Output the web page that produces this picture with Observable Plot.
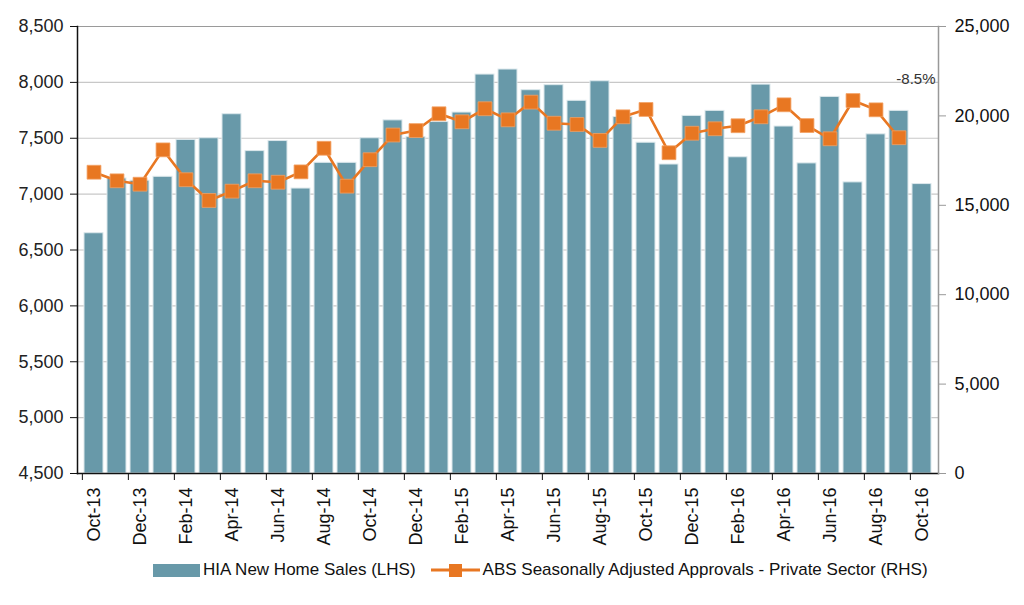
<!DOCTYPE html>
<html>
<head>
<meta charset="utf-8">
<script src="https://cdn.jsdelivr.net/npm/d3@7"></script>
<script src="https://cdn.jsdelivr.net/npm/@observablehq/plot@0.6"></script>
<style>
  html, body { margin: 0; padding: 0; background: #fff; }
  #wrap { position: relative; width: 1024px; height: 605px; font-family: "Liberation Sans", Arial, sans-serif; }
  #legend { position: absolute; left: 153px; top: 560px; display: flex; align-items: center; font-size: 17px; color: #111; white-space: nowrap; }
  .sw-bar { width: 47px; height: 13px; background: #6899A9; margin-right: 3px; }
  .item { display: flex; align-items: center; }
</style>
</head>
<body>
<div id="wrap">
  <div id="chart"></div>
  <div id="legend"></div>
</div>
<script>
const months = ["Oct-13","Nov-13","Dec-13","Jan-14","Feb-14","Mar-14","Apr-14","May-14","Jun-14","Jul-14","Aug-14","Sep-14",
  "Oct-14","Nov-14","Dec-14","Jan-15","Feb-15","Mar-15","Apr-15","May-15","Jun-15","Jul-15","Aug-15","Sep-15",
  "Oct-15","Nov-15","Dec-15","Jan-16","Feb-16","Mar-16","Apr-16","May-16","Jun-16","Jul-16","Aug-16","Sep-16","Oct-16"];
const tickMonths = ["Oct-13","Dec-13","Feb-14","Apr-14","Jun-14","Aug-14","Oct-14","Dec-14","Feb-15","Apr-15","Jun-15","Aug-15",
  "Oct-15","Dec-15","Feb-16","Apr-16","Jun-16","Aug-16","Oct-16"];
const hiaSales = [6650,7140,7120,7155,7485,7500,7715,7385,7475,7050,7280,7280,7500,7660,7510,7645,7730,8070,8115,7930,7975,7835,8010,7690,7460,7265,7700,7745,7330,7980,7605,7275,7870,7105,7535,7745,7090];
const absApprovals = [16850,16370,16180,18100,16430,15270,15790,16370,16290,16870,18190,16070,17550,18930,19180,20120,19670,20400,19780,20770,19590,19520,18630,19950,20360,17940,19030,19280,19450,19950,20620,19460,18720,20860,20340,18780,null];
const leftTicks = [4500,5000,5500,6000,6500,7000,7500,8000,8500];
const rightTicks = [0,5000,10000,15000,20000,25000];
const seriesNames = ["HIA New Home Sales (LHS)", "ABS Seasonally Adjusted Approvals - Private Sector (RHS)"];
const annotation = "-8.5%";

const yMin = 4500, yMax = 8500, rMax = 25000;
const toLeft = v => yMin + v / rMax * (yMax - yMin);
const fromLeft = d => Math.round((d - yMin) / (yMax - yMin) * rMax);

const barData = months.map((m, i) => ({month: m, sales: hiaSales[i]}));
const lineData = months.map((m, i) => ({month: m, v: absApprovals[i] == null ? NaN : toLeft(absApprovals[i])}));
const dotData = lineData.filter(d => !isNaN(d.v));

const W = 1024, H = 552, mL = 77, mR = 86, mT = 26, mB = 79;
const step = (W - mL - mR) / months.length;
const barColor = "#6899A9", lineColor = "#E87722";
const fmt = d3.format(",");

const chart = Plot.plot({
  width: W, height: H,
  marginLeft: mL, marginRight: mR, marginTop: mT, marginBottom: mB,
  style: {fontFamily: "'Liberation Sans', Arial, sans-serif", background: "#fff", overflow: "visible"},
  x: {type: "band", domain: months, paddingInner: 0.18, paddingOuter: 0.09, axis: null},
  y: {domain: [yMin, yMax], axis: null},
  marks: [
    Plot.gridY(leftTicks, {stroke: "#c8c8c8", strokeOpacity: 1, strokeWidth: 1.2}),
    Plot.ruleY([yMax], {stroke: "#9a9a9a", strokeWidth: 1.2}),
    Plot.barY(barData, {x: "month", y1: yMin, y2: "sales", fill: barColor, stroke: "#dce8ec", strokeWidth: 1}),
    Plot.line(lineData, {x: "month", y: "v", stroke: lineColor, strokeWidth: 2.6}),
    Plot.dot(dotData, {x: "month", y: "v", symbol: "square", r: 7.8, fill: lineColor, stroke: "#f3a062", strokeWidth: 0.8}),
    Plot.frame({anchor: "left", stroke: "#111", strokeWidth: 1.5}),
    Plot.frame({anchor: "bottom", stroke: "#111", strokeWidth: 1.5}),
    Plot.frame({anchor: "right", stroke: "#999", strokeWidth: 1.5}),
    Plot.axisY(leftTicks, {anchor: "left", tickSize: 7, tickPadding: 7, tickFormat: fmt, fontSize: 18, fill: "#222", stroke: "#111", label: null}),
    Plot.axisY(rightTicks.map(toLeft), {anchor: "right", tickSize: 7, tickPadding: 9, tickFormat: d => fmt(fromLeft(d)), fontSize: 18, fill: "#111", stroke: "#999", label: null}),
    Plot.axisX(tickMonths, {anchor: "bottom", tickSize: 0, tickPadding: 14, tickRotate: -90, fontSize: 18, fill: "#111", label: null}),
    Plot.axisX(tickMonths, {anchor: "bottom", tickSize: 7, text: null, dx: -step / 2, stroke: "#111", label: null}),
    Plot.text([annotation], {frameAnchor: "top-right", text: d => d, textAnchor: "end", dx: -3, dy: 47, fontSize: 15, fill: "#333"})
  ]
});
document.getElementById("chart").appendChild(chart);

const legend = document.getElementById("legend");
legend.innerHTML = `
  <div class="item"><div class="sw-bar"></div><span>${seriesNames[0]}</span></div>
  <div class="item" style="margin-left:15px">
    <svg width="49" height="16" style="margin-right:3px"><line x1="0" y1="8" x2="49" y2="8" stroke="${lineColor}" stroke-width="3"/><rect x="18" y="2" width="13" height="13" fill="${lineColor}"/></svg>
    <span>${seriesNames[1]}</span></div>`;
</script>
</body>
</html>
